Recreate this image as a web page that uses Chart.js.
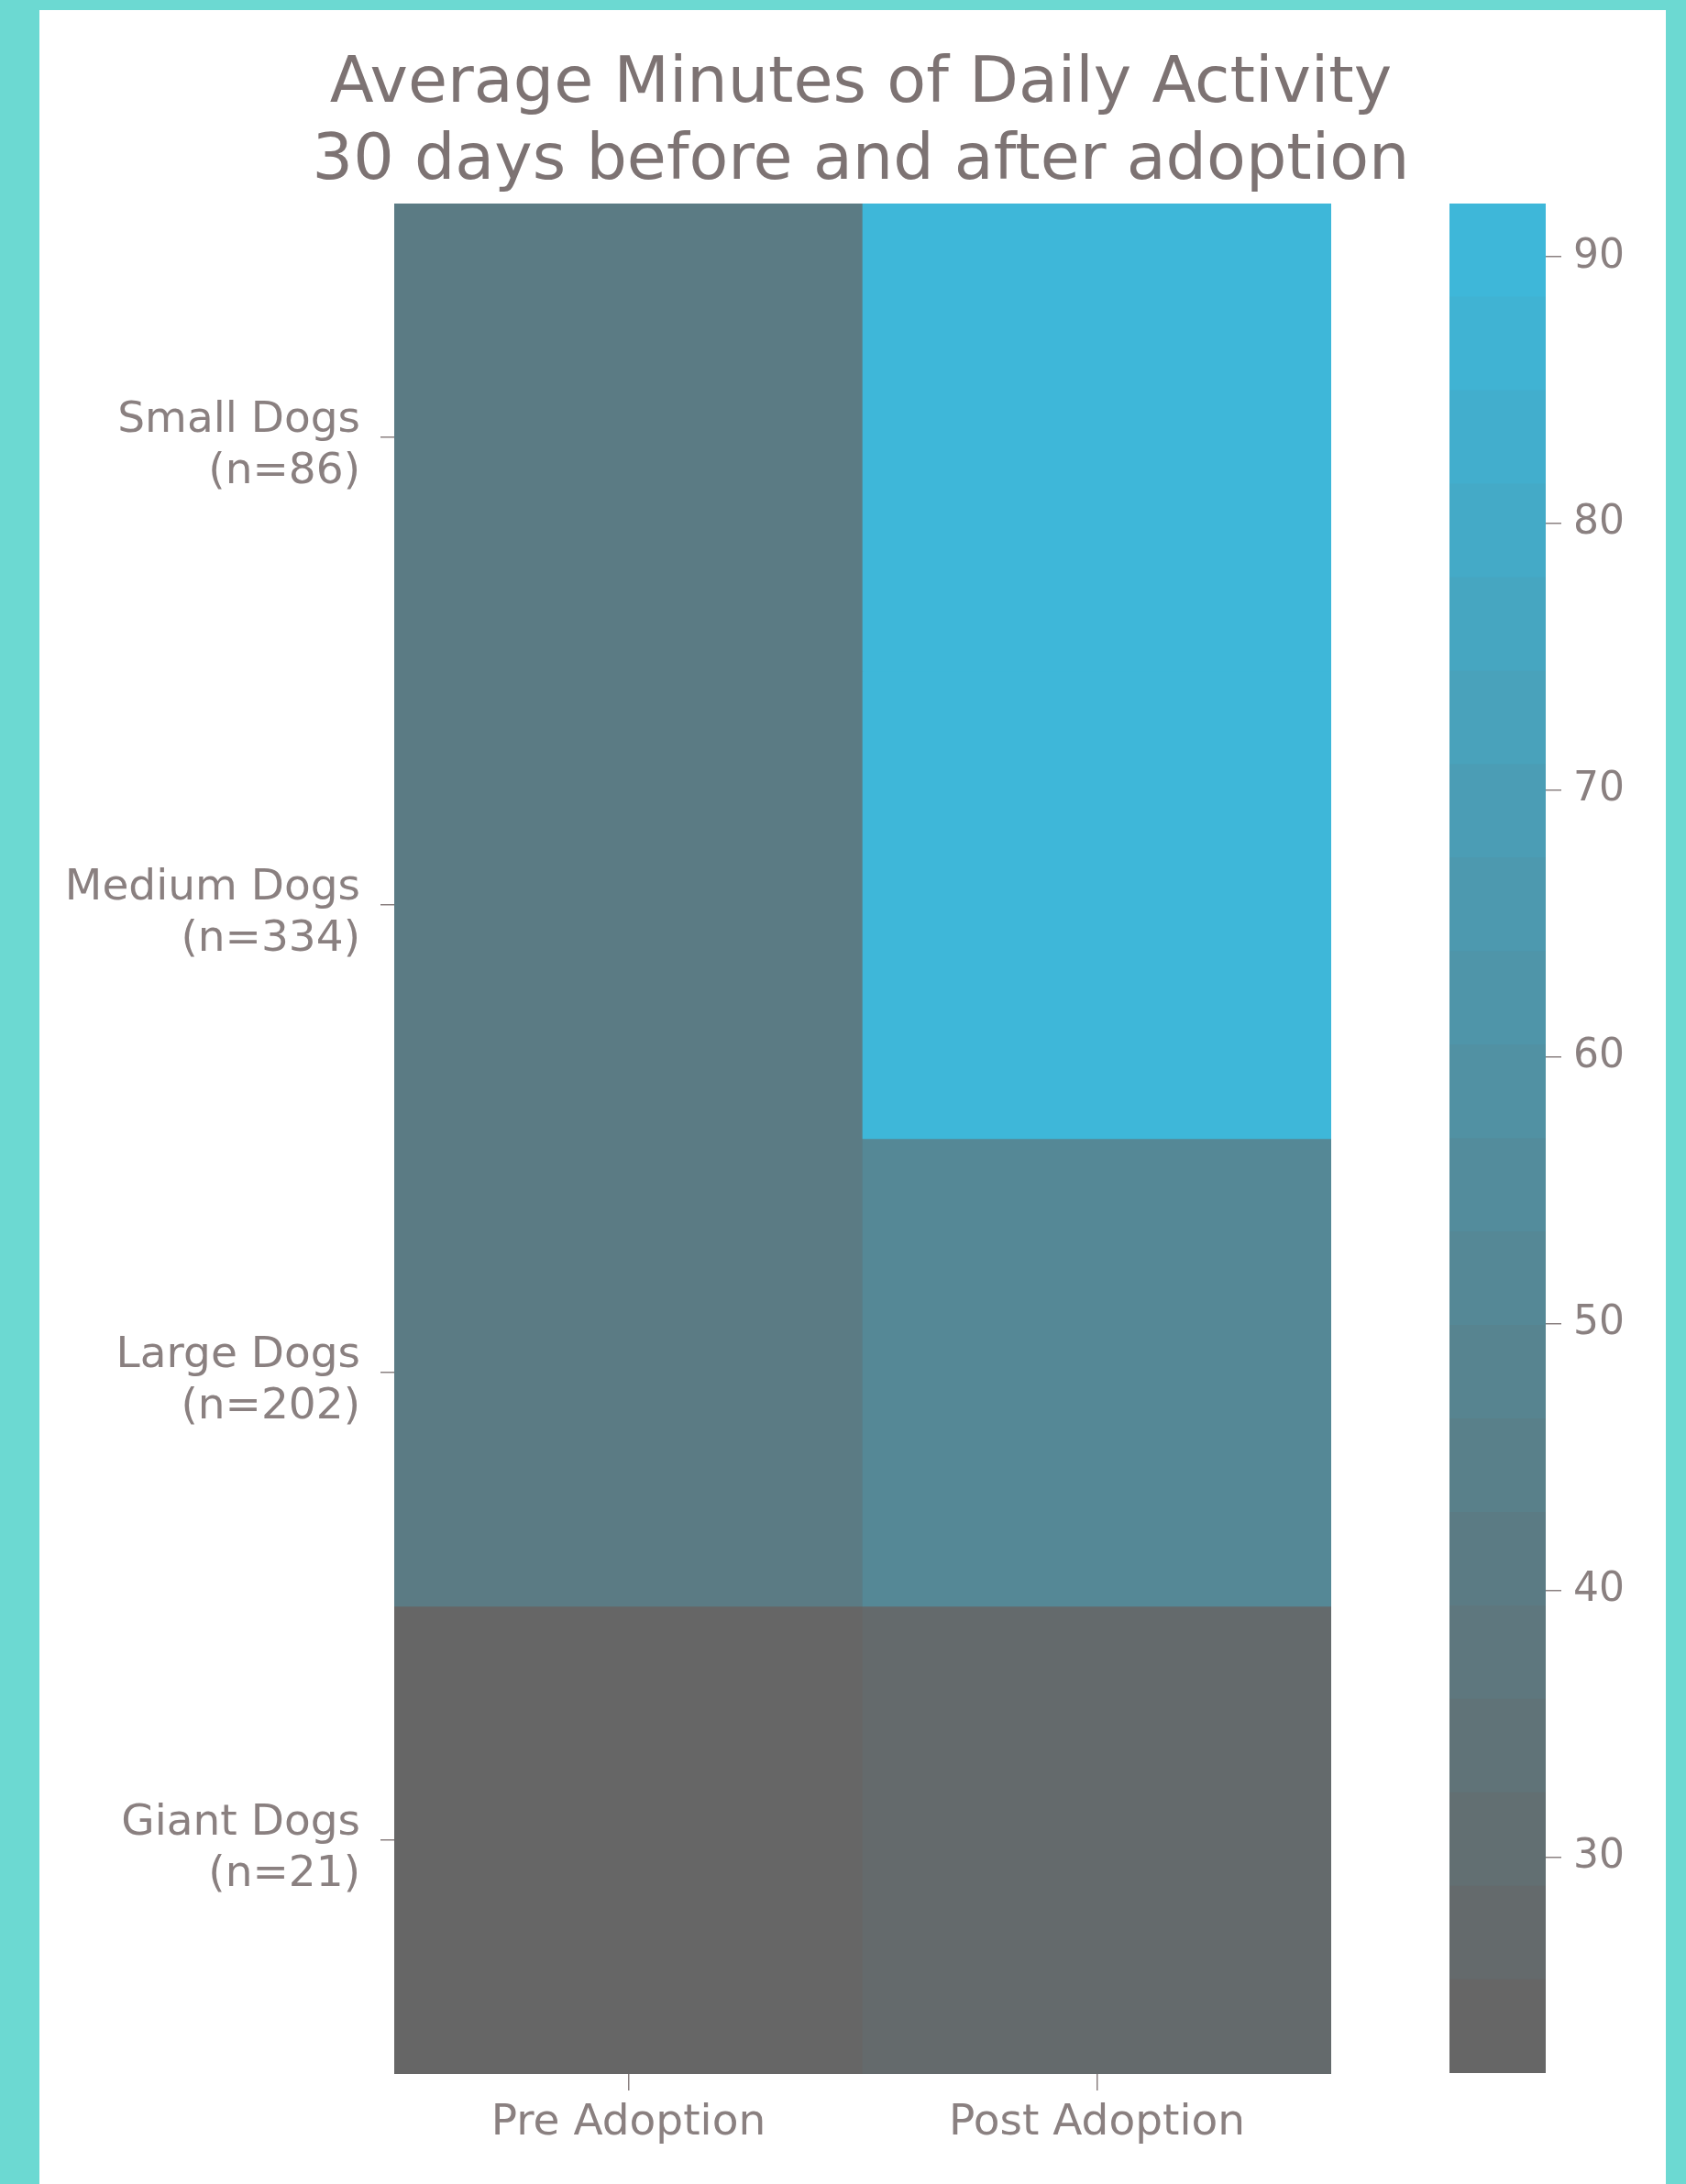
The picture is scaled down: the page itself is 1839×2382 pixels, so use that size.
<!DOCTYPE html>
<html>
<head>
<meta charset="utf-8">
<script src="https://cdn.jsdelivr.net/npm/chart.js@4.4.1/dist/chart.umd.min.js"></script>
<style>
  html, body { margin: 0; padding: 0; }
  body { width: 1839px; height: 2382px; background: #6cd9d2; position: relative; overflow: hidden; }
  #panel { position: absolute; left: 43px; top: 11px; width: 1774px; height: 2371px; background: #ffffff; }
  #heat { position: absolute; left: 43px; top: 11px; width: 1792px; height: 2371px; }
  #cbar { position: absolute; left: 1540px; top: 0px; width: 299px; height: 2382px; }
</style>
</head>
<body>
<div id="panel"></div>
<canvas id="heat" width="1792" height="2371"></canvas>
<canvas id="cbar" width="299" height="2382"></canvas>
<script>
// ---- data ----
const titleLines = ['Average Minutes of Daily Activity', '30 days before and after adoption'];
const columns = ['Pre Adoption', 'Post Adoption'];
const dogSizes = ['Small Dogs', 'Medium Dogs', 'Large Dogs', 'Giant Dogs'];
const sampleSizes = [86, 334, 202, 21];
const preAdoption = [42.5, 42.0, 41.5, 21.9];
const postAdoption = [92.0, 91.0, 52.0, 28.0];
const colorbarTicks = [30, 40, 50, 60, 70, 80, 90];
const colorbarBands = 20;

// ---- palette ----
const lowColor = [102, 102, 102];
const highColor = [62, 183, 217];
const textColor = '#8a8080';
const titleColor = '#7d7373';
const FONT = 'DejaVu Sans';

const allValues = preAdoption.concat(postAdoption);
const vmin = Math.min(...allValues);
const vmax = Math.max(...allValues);
const bandW = (vmax - vmin) / colorbarBands;

function bandIndex(v) {
  return Math.min(colorbarBands - 1, Math.max(0, Math.floor((v - vmin) / bandW)));
}
function bandColor(k) {
  const t = k / (colorbarBands - 1);
  const c = lowColor.map((lo, j) => Math.round(lo + (highColor[j] - lo) * t));
  return `rgb(${c[0]},${c[1]},${c[2]})`;
}
function valueColor(v) { return bandColor(bandIndex(v)); }

Chart.defaults.font.family = FONT;
Chart.defaults.color = textColor;

// ---- heatmap ----
const rows = dogSizes.map((name, i) => [preAdoption[i], postAdoption[i]]);
const heatDatasets = rows.map((vals, i) => ({
  label: dogSizes[i],
  data: columns.map(() => [i, i + 1]),
  backgroundColor: vals.map(valueColor),
  borderWidth: 0,
  barPercentage: 1,
  categoryPercentage: 1,
  grouped: false
}));

new Chart(document.getElementById('heat'), {
  type: 'bar',
  data: { labels: columns, datasets: heatDatasets },
  options: {
    responsive: false,
    animation: false,
    devicePixelRatio: 1,
    layout: { padding: 0 },
    plugins: {
      legend: { display: false },
      tooltip: { enabled: false },
      title: {
        display: true,
        text: titleLines,
        color: titleColor,
        font: { family: FONT, size: 70, weight: 'normal', lineHeight: 1.2 },
        padding: { top: 40, bottom: 3 }
      }
    },
    scales: {
      x: {
        type: 'category',
        offset: true,
        grid: { display: true, offset: false, drawOnChartArea: false, drawTicks: true, tickLength: 18, tickColor: textColor, lineWidth: 1.5 },
        border: { display: false },
        ticks: { color: textColor, font: { size: 47, lineHeight: 1.2 }, padding: 8, maxRotation: 0, autoSkip: false },
        afterFit: s => { s.height = 120; }
      },
      y: {
        type: 'linear',
        reverse: true,
        min: 0,
        max: dogSizes.length,
        grid: { display: true, drawOnChartArea: false, drawTicks: true, tickLength: 15, tickColor: textColor, lineWidth: 1.5 },
        border: { display: false },
        afterBuildTicks: s => { s.ticks = dogSizes.map((_, i) => ({ value: i + 0.5 })); },
        ticks: {
          color: textColor,
          font: { size: 47, lineHeight: 1.2 },
          padding: 22,
          labelOffset: 10,
          autoSkip: false,
          callback: (value) => {
            const i = Math.floor(value);
            return [dogSizes[i], '(n=' + sampleSizes[i] + ')'];
          }
        },
        afterFit: s => { s.width = 387; }
      },
      yPad: {
        type: 'linear',
        position: 'right',
        display: true,
        grid: { display: false },
        border: { display: false },
        ticks: { display: false },
        afterFit: s => { s.width = 383; }
      }
    }
  }
});

// ---- colorbar ----
const cbDatasets = [];
for (let k = 0; k < colorbarBands; k++) {
  cbDatasets.push({
    label: 'band' + k,
    data: [[vmin, vmin + bandW * (k + 1)]],
    backgroundColor: bandColor(k),
    borderWidth: 0,
    barPercentage: 1,
    categoryPercentage: 1,
    grouped: false
  });
}

new Chart(document.getElementById('cbar'), {
  type: 'bar',
  data: { labels: [''], datasets: cbDatasets },
  options: {
    responsive: false,
    animation: false,
    devicePixelRatio: 1,
    layout: { padding: { left: 41, top: 222, bottom: 121, right: 0 } },
    plugins: { legend: { display: false }, tooltip: { enabled: false }, title: { display: false } },
    scales: {
      x: { display: false },
      y: {
        type: 'linear',
        position: 'right',
        min: vmin,
        max: vmax,
        grid: { display: true, drawOnChartArea: false, drawTicks: true, tickLength: 17, tickColor: textColor, lineWidth: 1.5 },
        border: { display: false },
        afterBuildTicks: s => { s.ticks = colorbarTicks.map(v => ({ value: v })); },
        ticks: { color: textColor, font: { size: 44 }, padding: 13, autoSkip: false },
        afterFit: s => { s.width = 153; }
      }
    }
  }
});
</script>
</body>
</html>
